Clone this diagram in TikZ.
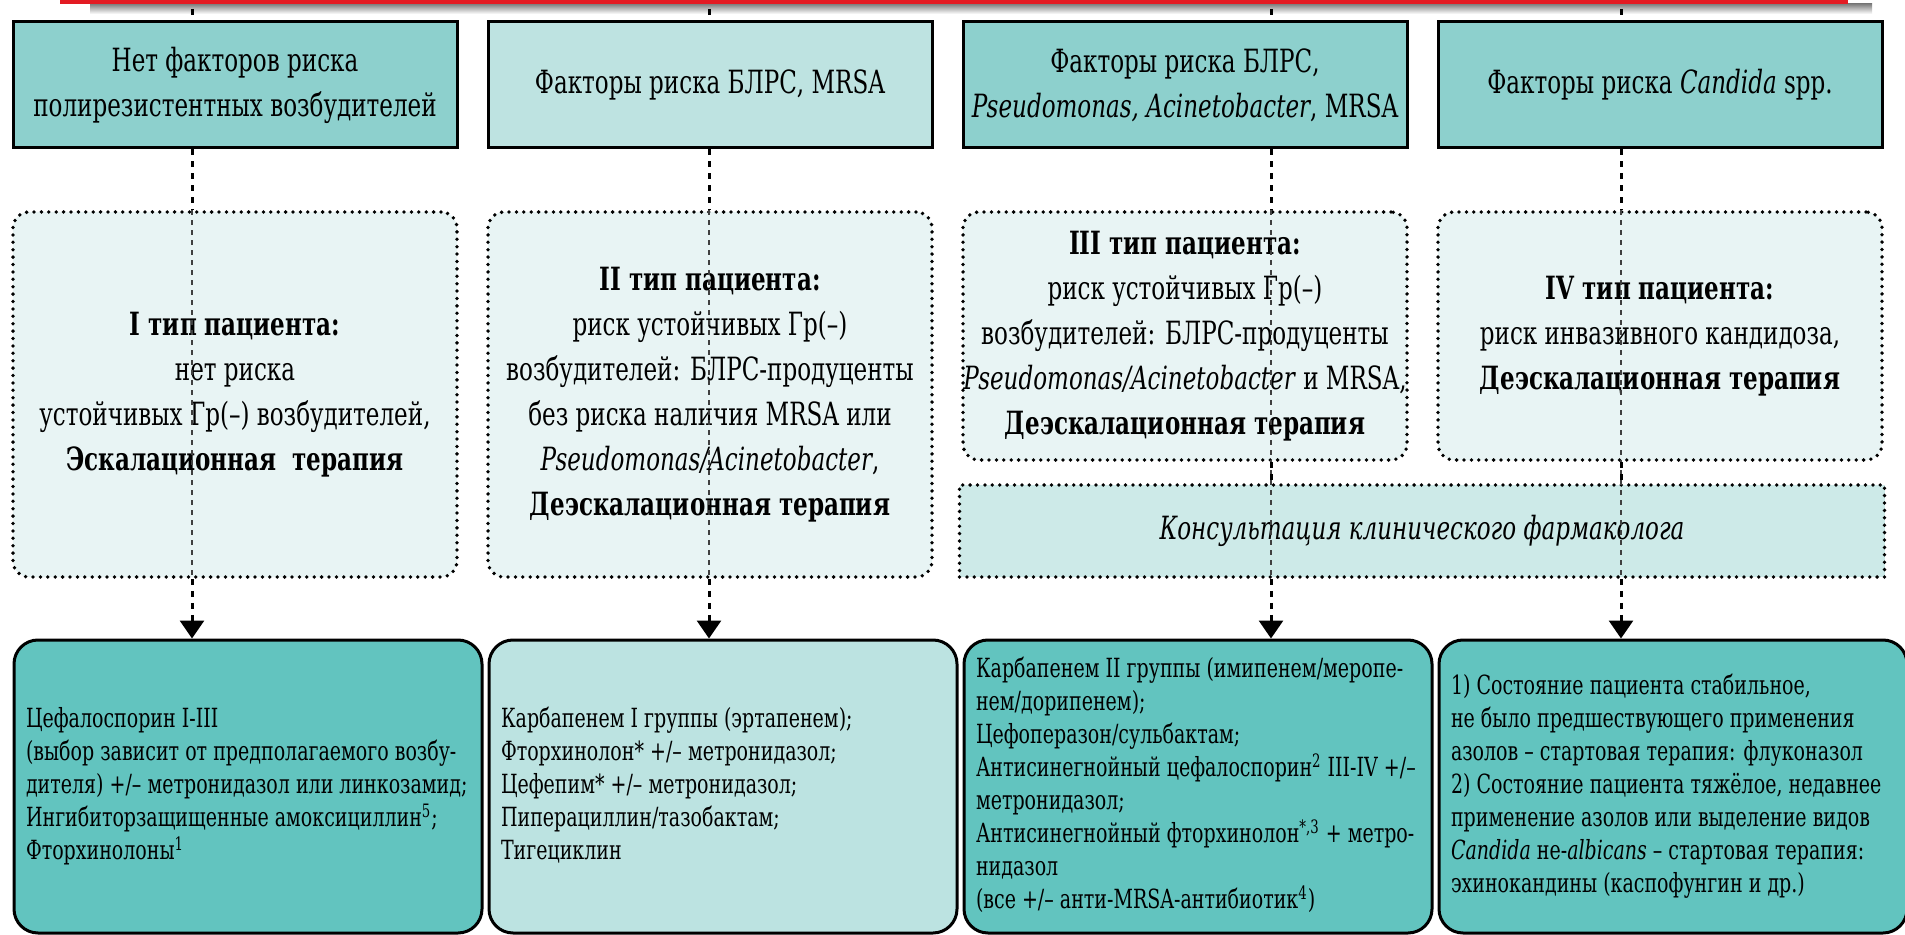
\documentclass[tikz,border=0pt]{standalone}
\usepackage{fontspec}
\setmainfont{DejaVu Serif}[FakeStretch=0.72]
\usetikzlibrary{arrows.meta}

\definecolor{barred}{HTML}{E31B23}
\definecolor{tealdark}{HTML}{8DD0CD}
\definecolor{teallight}{HTML}{BEE3E1}
\definecolor{midfill}{HTML}{E8F4F4}
\definecolor{consultfill}{HTML}{CDEAE8}
\definecolor{drugdark}{HTML}{62C4BF}
\definecolor{druglight}{HTML}{BCE3E1}

% left-aligned block of lines that never wraps
\newcommand{\druglines}[1]{\begin{tabular}{@{}l@{}}#1\end{tabular}}

\begin{document}
\begin{tikzpicture}[x=0.5pt, y=-0.5pt,
    every node/.style={inner sep=0pt, font=\fontsize{16}{22.5}\selectfont},
    factor/.style={draw=black, line width=1.5pt, minimum width=222pt, minimum height=63pt, align=center},
    ptype/.style={draw=black, line width=1.9pt, line cap=round, dash pattern=on 0pt off 3.7pt,
        rounded corners=8pt, fill=midfill, minimum width=222pt, align=center},
    drug/.style={draw=black, line width=1.5pt, rounded corners=12pt, minimum width=234pt,
        minimum height=146.5pt, text width=222pt, align=flush left,
        font=\fontsize{13.2}{16.5}\selectfont},
    link/.style={line width=1.5pt, dash pattern=on 3pt off 3pt},
    thinlink/.style={line width=0.6pt, black!75, dash pattern=on 2.5pt off 2.5pt},
    arrowlink/.style={link, -{Triangle[width=12pt, length=9pt]}}
]
\useasboundingbox (0,0) rectangle (1905,935);

% Red bar with shadow
\shade[top color=black!50, bottom color=white] (90,4) rectangle (1872,14);
\fill[barred] (60,0) rectangle (1848,4);

% Risk factors (top row)
\node[factor, fill=tealdark]  (top1) at (235,85) {Нет факторов риска\\полирезистентных возбудителей};
\node[factor, fill=teallight] (top2) at (710,85) {Факторы риска БЛРС, MRSA};
\node[factor, fill=tealdark]  (top3) at (1185,85) {Факторы риска БЛРС,\\\textit{Pseudomonas, Acinetobacter}, MRSA};
\node[factor, fill=tealdark]  (top4) at (1660,85) {Факторы риска \textit{Candida} spp.};

% Patient types (middle row)
\node[ptype, minimum height=182.5pt] (mid1) at (235,394.5)
    {\textbf{I тип пациента:}\\нет риска\\устойчивых Гр(–) возбудителей,\\\textbf{Эскалационная~ терапия}};
\node[ptype, minimum height=182.5pt] (mid2) at (710,394.5)
    {\textbf{II тип пациента:}\\риск устойчивых Гр(–)\\возбудителей: БЛРС-продуценты\\без риска наличия MRSA или\\\textit{Pseudomonas/Acinetobacter},\\\textbf{Деэскалационная терапия}};
\node[ptype, minimum height=124pt] (mid3) at (1185,336)
    {\textbf{III тип пациента:}\\риск устойчивых Гр(–)\\возбудителей: БЛРС-продуценты\\\textit{Pseudomonas/Acinetobacter} и MRSA,\\\textbf{Деэскалационная терапия}};
\node[ptype, minimum height=124pt] (mid4) at (1660,336)
    {\textbf{IV тип пациента:}\\риск инвазивного кандидоза,\\\textbf{Деэскалационная терапия}};
\node[ptype, rounded corners=0pt, fill=consultfill, minimum width=462.5pt, minimum height=46pt] (consult) at (1422,531)
    {\textit{Консультация клинического фармаколога}};

% Antibiotic choice (bottom row)
\node[drug, fill=drugdark] (bot1) at (248,786.5)
    {\druglines{Цефалоспорин I-III\\(выбор зависит от предполагаемого возбу-\\дителя) +/– метронидазол или линкозамид;\\Ингибиторзащищенные амоксициллин\textsuperscript{5};\\Фторхинолоны\textsuperscript{1}}};
\node[drug, fill=druglight] (bot2) at (723,786.5)
    {\druglines{Карбапенем I группы (эртапенем);\\Фторхинолон* +/– метронидазол;\\Цефепим* +/– метронидазол;\\Пиперациллин/тазобактам;\\Тигециклин}};
\node[drug, fill=drugdark] (bot3) at (1198,786.5)
    {\druglines{Карбапенем II группы (имипенем/меропе-\\нем/дорипенем);\\Цефоперазон/сульбактам;\\Антисинегнойный цефалоспорин\textsuperscript{2} III-IV +/–\\метронидазол;\\Антисинегнойный фторхинолон\textsuperscript{*,3} + метро-\\нидазол\\(все +/– анти-MRSA-антибиотик\textsuperscript{4})}};
\node[drug, fill=drugdark] (bot4) at (1673,786.5)
    {\druglines{1) Состояние пациента стабильное,\\не было предшествующего применения\\азолов – стартовая терапия: флуконазол\\2) Состояние пациента тяжёлое, недавнее\\применение азолов или выделение видов\\\textit{Candida} не-\textit{albicans} – стартовая терапия:\\эхинокандины (каспофунгин и др.)}};

% Connections down each column
\foreach \i/\lx/\last in {1/192/mid1, 2/709/mid2, 3/1271/consult, 4/1621/consult} {
    \coordinate (in\i) at (\lx,9);
    \coordinate (lane\i) at (\lx,0);
    \draw[link] (in\i) -- (top\i.north -| lane\i);
    \draw[link] (top\i.south -| lane\i) -- (mid\i.north -| lane\i);
    \draw[thinlink] (mid\i.north -| lane\i) -- (\last.south -| lane\i);
    \draw[arrowlink] (\last.south -| lane\i) -- (bot\i.north -| lane\i);
}
\foreach \i in {3,4} {
    \draw[link] (mid\i.south -| lane\i) -- (consult.north -| lane\i);
}

\end{tikzpicture}
\end{document}
